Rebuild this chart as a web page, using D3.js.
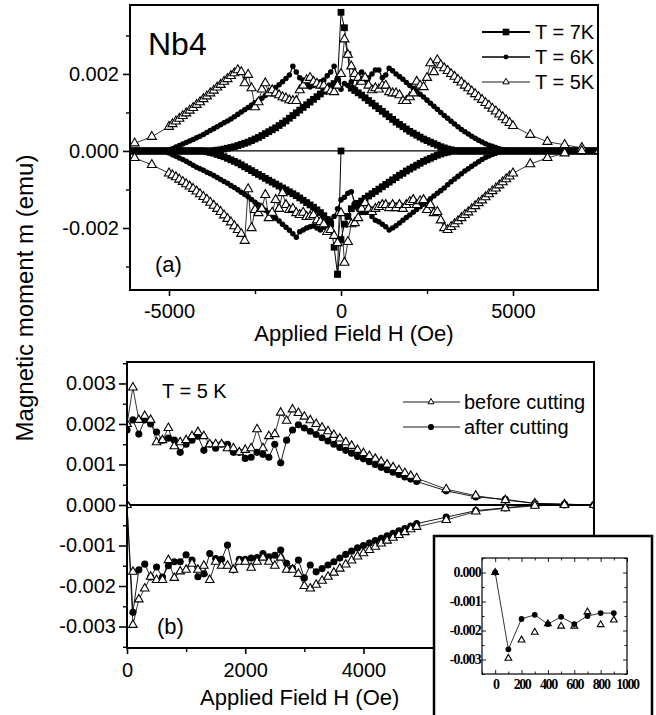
<!DOCTYPE html>
<html><head><meta charset="utf-8">
<script src="https://cdn.jsdelivr.net/npm/d3@7"></script>
<style>body{margin:0;background:#fff}svg{display:block}</style>
</head><body>
<script>
// ---------------- DATA ----------------
// Panel (a): field grid (Oe) for T = 7K and T = 6K loops
const fieldGrid = [-6100,-6000,-5900,-5800,-5700,-5600,-5500,-5400,-5300,-5200,-5100,-5000,-4900,-4800,-4700,-4600,-4500,-4400,-4300,-4200,-4100,-4000,-3900,-3800,-3700,-3600,-3500,-3400,-3300,-3200,-3100,-3000,-2900,-2800,-2700,-2600,-2500,-2400,-2300,-2200,-2100,-2000,-1900,-1800,-1700,-1600,-1500,-1400,-1300,-1200,-1100,-1000,-900,-800,-700,-600,-500,-400,-300,-200,-100,0,100,200,300,400,500,600,700,800,900,1000,1100,1200,1300,1400,1500,1600,1700,1800,1900,2000,2100,2200,2300,2400,2500,2600,2700,2800,2900,3000,3100,3200,3300,3400,3500,3600,3700,3800,3900,4000,4100,4200,4300,4400,4500,4600,4700,4800,4900,5000,5100,5200,5300,5400,5500,5600,5700,5800,5900,6000,6100,6200,6300,6400,6500,6600,6700,6800,6900,7000,7100,7200,7300,7400,7500];
const m7Up = [0,0,0,0,0,0,0,0,0,0,0,0,0,0,0,0,0,0,0,0,0,0,0,0,
 0.00001,0.00002,0.00003,0.00005,0.00007,0.00009,0.00011,0.00014,0.00017,0.0002,0.00023,0.00027,0.00031,0.00035,0.0004,0.00045,0.0005,0.00055,0.0006,0.00066,0.00072,0.00078,0.00085,0.00092,0.00099,0.00106,0.00113,0.0012,0.00127,0.00134,0.00141,0.00148,0.00155,0.00162,0.00169,0.00175,0.0018,
 0.0036,0.0032,0.0025,0.00163,0.00157,0.00151,0.00145,0.00138,0.00131,0.00124,0.00117,0.0011,0.00103,0.00096,0.00089,0.00082,0.00075,0.00069,0.00063,0.00057,0.00051,0.00046,0.00041,0.00036,0.00031,0.00027,0.00023,0.00019,0.00015,0.00011,0.00008,0.00005,0.00003,0.00001,
 0,0,0,0,0,0,0,0,0,0,0,0,0,0,0,0,0,0,0,0,0,0,0,0,0,0,0,0,0,0,0,0,0,0,0,0,0,0,0,0,0,0];
const m7Down = [0,0,0,0,0,0,0,0,0,0,0,0,0,0,0,0,0,0,0,0,0,0,
 -0.00002,-0.00004,-0.00006,-0.00009,-0.00012,-0.00015,-0.00019,-0.00023,-0.00027,-0.00031,-0.00036,-0.00041,-0.00046,-0.00051,-0.00056,-0.00061,-0.00066,-0.00071,-0.00076,-0.00081,-0.00086,-0.00091,-0.00096,-0.00101,-0.00106,-0.00111,-0.00116,-0.00122,-0.00128,-0.00134,-0.0014,-0.00146,-0.00153,-0.0016,-0.00168,-0.00178,-0.0019,-0.0025,-0.0032,
 -0.0023,-0.0019,-0.0017,-0.0015,-0.00143,-0.00136,-0.0013,-0.00123,-0.00117,-0.00111,-0.00105,-0.00099,-0.00093,-0.00087,-0.00081,-0.00075,-0.00069,-0.00063,-0.00058,-0.00052,-0.00047,-0.00042,-0.00037,-0.00032,-0.00027,-0.00023,-0.00019,-0.00015,-0.00011,-0.00008,-0.00005,-0.00003,-0.00001,
 0,0,0,0,0,0,0,0,0,0,0,0,0,0,0,0,0,0,0,0,0,0,0,0,0,0,0,0,0,0,0,0,0,0,0,0,0,0,0,0,0,0,0];
const m6Up = [0,0,0,0,0,0,0,0,0,0,0,
 0.00003,0.00006,0.0001,0.00014,0.00018,0.00022,0.00026,0.0003,0.00034,0.00038,0.00043,0.00048,0.00053,0.00058,0.00063,0.00068,0.00073,0.00078,0.00083,0.00089,0.00095,0.00101,0.00107,0.00113,0.00119,0.00125,0.00131,0.00137,0.00144,0.00151,0.00158,0.00165,0.00172,0.0018,0.00188,0.00197,0.0022,0.00205,0.0019,0.00184,0.00172,0.00166,0.0017,0.00176,0.0018,0.00184,0.00195,0.00205,0.0022,0.0019,
 0.0016,0.00175,0.0017,0.0018,0.0016,0.0019,0.00205,0.00184,0.0019,0.002,0.0021,0.0021,0.0019,0.00197,0.00215,0.00208,0.002,0.00193,0.00186,0.00178,0.0017,0.00163,0.00155,0.00147,0.0014,0.00132,0.00124,0.00116,0.00108,0.001,0.00092,0.00085,0.00077,0.0007,0.00063,0.00056,0.0005,0.00044,0.00038,0.00033,0.00028,0.00023,0.00019,0.00015,0.00012,0.00009,0.00006,0.00004,0.00002,0.00001,
 0,0,0,0,0,0,0,0,0,0,0,0,0,0,0,0,0,0,0,0,0,0,0,0,0,0];
const m6Down = [0,0,0,0,0,0,0,0,0,0,0,
 -0.00005,-0.0001,-0.00014,-0.00018,-0.00022,-0.00027,-0.00032,-0.00037,-0.00042,-0.00046,-0.0005,-0.00055,-0.00059,-0.00064,-0.00069,-0.00074,-0.00079,-0.00084,-0.0009,-0.00095,-0.00101,-0.00107,-0.00113,-0.00119,-0.00126,-0.00133,-0.0014,-0.00147,-0.00154,-0.00161,-0.00168,-0.00175,-0.00182,-0.0019,-0.00198,-0.00206,-0.00215,-0.00224,-0.0021,-0.00205,-0.002,-0.00197,-0.00195,-0.002,-0.00205,-0.00198,-0.0019,-0.0018,-0.0017,-0.0015,
 -0.00127,-0.0012,-0.0011,-0.00106,-0.00135,-0.0015,-0.0016,-0.0016,-0.00158,-0.0017,-0.0018,-0.00184,-0.0019,-0.00197,-0.00205,-0.002,-0.00194,-0.00187,-0.0018,-0.00173,-0.00166,-0.00159,-0.00152,-0.00145,-0.00138,-0.00131,-0.00124,-0.00117,-0.0011,-0.00103,-0.00096,-0.00088,-0.0008,-0.00073,-0.00066,-0.00059,-0.00052,-0.00046,-0.0004,-0.00034,-0.00028,-0.00022,-0.00017,-0.00013,-0.00009,-0.00006,-0.00003,-0.00001,
 0,0,0,0,0,0,0,0,0,0,0,0,0,0,0,0,0,0,0,0,0,0,0,0,0,0,0,0];
// T = 7K first measured point (virgin) and its jump
const virgin7H = [0,-100];
const virgin7M = [0,-0.0032];
// T = 5K loop (triangles)
const field5K = [-6000,-5500,-5000,-4900,-4800,-4700,-4600,-4500,-4400,-4300,-4200,-4100,-4000,-3900,-3800,-3700,-3600,-3500,-3400,-3300,-3200,-3100,-3000,-2900,-2800,-2700,-2600,-2500,-2400,-2300,-2200,-2100,-2000,-1900,-1800,-1700,-1600,-1500,-1400,-1300,-1200,-1100,-1000,-900,-800,-700,-600,-500,-400,-300,-200,-100,0,100,200,300,400,500,600,700,800,900,1000,1100,1200,1300,1400,1500,1600,1700,1800,1900,2000,2100,2200,2300,2400,2500,2600,2700,2800,2900,3000,3100,3200,3300,3400,3500,3600,3700,3800,3900,4000,4100,4200,4300,4400,4500,4600,4700,4800,4900,5000,5500,6000,6500,7000,7500];
const m5Up = [0.0002,0.00037,
 0.00063,0.0007,0.00077,0.00084,0.00091,0.00098,0.00105,0.00112,0.0012,0.00127,0.00135,0.00142,0.0015,0.00157,0.00165,0.00172,0.0018,0.00187,0.00195,0.00202,0.0021,
 0.00205,0.00176,0.00198,0.00163,0.00114,0.00127,0.0016,0.00176,0.0015,0.00158,0.0015,0.00145,0.0014,0.00137,0.00132,0.0013,0.0013,0.00158,0.0017,0.00184,0.0019,0.0018,0.00175,0.0017,0.0017,0.0016,0.00155,0.00153,0.0017,
 0.002,0.0029,0.0025,0.0022,0.002,0.0019,0.0018,0.0019,0.0017,0.00158,0.00163,0.0016,0.0017,0.0017,0.00153,0.0015,0.0015,0.00145,0.0013,0.0013,0.0014,0.0015,0.0018,0.0017,0.00166,0.0019,0.00228,0.00205,
 0.00236,0.00223,0.00215,0.00208,0.002,0.00193,0.00185,0.00178,0.0017,0.00163,0.00155,0.00148,0.0014,0.00133,0.00125,0.00118,0.0011,0.00103,0.00095,0.00088,0.0008,0.00073,0.00065,
 0.00042,0.00024,0.00016,0.00008,0.00003];
const m5Down = [-0.00018,-0.00036,
 -0.00058,-0.00063,-0.00068,-0.00074,-0.0008,-0.00086,-0.00092,-0.00098,-0.00105,-0.00112,-0.00119,-0.00126,-0.00134,-0.00142,-0.0015,-0.00158,-0.00167,-0.00176,-0.00185,-0.00195,-0.00205,-0.00215,-0.00233,
 -0.00099,-0.002,-0.00153,-0.00161,-0.0015,-0.00114,-0.00174,-0.0016,-0.00127,-0.0015,-0.00109,-0.0014,-0.00153,-0.0015,-0.00161,-0.00166,-0.0016,-0.00171,-0.0017,-0.00166,-0.0018,-0.00184,-0.0019,-0.0021,-0.00205,-0.0022,-0.00239,
 -0.00161,-0.0029,-0.00236,-0.0019,-0.00187,-0.00174,-0.0015,-0.00135,-0.0015,-0.00158,-0.0015,-0.00145,-0.0014,-0.0014,-0.00148,-0.0014,-0.00148,-0.0014,-0.0015,-0.0014,-0.00132,-0.00127,-0.0014,-0.0013,-0.00127,-0.00153,-0.0014,-0.00161,-0.00158,-0.0018,-0.002,
 -0.00205,-0.00197,-0.0019,-0.00182,-0.00174,-0.00166,-0.00159,-0.00151,-0.00143,-0.00135,-0.00128,-0.0012,-0.00112,-0.00104,-0.00097,-0.00089,-0.00081,-0.00073,-0.00066,-0.00058,
 -0.00034,-0.00018,-0.00006,0,0];

// Panel (b): T = 5 K, before / after cutting
const fieldB = [0,100,200,300,400,500,600,700,800,900,1000,1100,1200,1300,1400,1500,1600,1700,1800,1900,2000,2100,2200,2300,2400,2500,2600,2700,2800,2900,3000,3100,3200,3300,3400,3500,3600,3700,3800,3900,4000,4100,4200,4300,4400,4500,4600,4700,4800,4900,5400,5900,6400,6900,7400,7900];
const beforeUp = [0.002,0.0029,0.0021,0.0022,0.0021,0.00155,0.0016,0.0019,0.00145,0.00155,0.0016,0.0017,0.0018,0.0017,0.0015,0.0015,0.0015,0.0014,0.0014,0.0013,0.00136,0.0014,0.00187,0.0014,0.0017,0.00175,0.00228,0.00208,0.00236,0.00227,0.00218,0.00209,0.002,0.00191,0.00182,0.00173,0.00164,0.00155,0.00146,0.00136,0.00128,0.00121,0.00114,0.00107,0.001,0.00093,0.00086,0.00079,0.00072,0.00066,0.00039,0.00023,0.00012,0.00004,0.00002,0];
const afterUp = [0.00185,0.0021,0.00175,0.0021,0.002,0.0018,0.0016,0.00165,0.0016,0.0013,0.0015,0.0016,0.0017,0.00135,0.0015,0.0014,0.0015,0.0015,0.0013,0.0013,0.00115,0.00118,0.0013,0.00125,0.00118,0.0015,0.00104,0.0016,0.00185,0.00198,0.0019,0.00182,0.00174,0.00166,0.00158,0.0015,0.00142,0.00135,0.00128,0.0012,0.00114,0.00107,0.001,0.00093,0.00087,0.00081,0.00075,0.00069,0.00064,0.00058,0.00035,0.0002,0.00014,0.00004,0.00002,0];
const beforeDown = [0,-0.00296,-0.00233,-0.00206,-0.00177,-0.00185,-0.00185,-0.00136,-0.0018,-0.00164,-0.0016,-0.00145,-0.0016,-0.0015,-0.00185,-0.0014,-0.0015,-0.0015,-0.0016,-0.0014,-0.0014,-0.00155,-0.0014,-0.0013,-0.0014,-0.0015,-0.0013,-0.0016,-0.0016,-0.0017,-0.002,-0.00206,-0.00197,-0.00187,-0.00177,-0.00167,-0.00157,-0.00147,-0.00137,-0.00127,-0.00119,-0.00111,-0.00103,-0.00095,-0.00088,-0.00081,-0.00074,-0.00067,-0.0006,-0.00054,-0.00037,-0.00016,-0.00008,-0.00002,0,0];
const afterDown = [0,-0.00265,-0.0016,-0.00146,-0.00178,-0.00153,-0.00178,-0.0015,-0.0014,-0.0014,-0.00123,-0.00136,-0.00177,-0.0017,-0.0012,-0.00132,-0.00134,-0.00099,-0.0016,-0.00134,-0.00134,-0.00131,-0.0013,-0.0012,-0.00128,-0.00124,-0.00111,-0.00144,-0.00156,-0.00136,-0.0018,-0.00148,-0.00165,-0.00157,-0.00148,-0.0014,-0.00131,-0.00122,-0.00114,-0.00106,-0.001,-0.00094,-0.00088,-0.00082,-0.00076,-0.0007,-0.00064,-0.00058,-0.00052,-0.00046,-0.0003,-0.00014,-0.00007,0,0,0];
// a lone "before cutting" point near the origin
const beforeExtraH = [100];
const beforeExtraM = [-0.00165];
// Inset: low-field part of the descending branch
const insetH = [0,100,200,300,400,500,600,700,800,900];
const insetAfter = [0,-0.00265,-0.0016,-0.00146,-0.00178,-0.00153,-0.00178,-0.0015,-0.0014,-0.0014];
const insetBefore = [0,-0.00296,-0.00233,-0.00206,-0.00177,-0.00185,-0.00185,-0.00136,-0.0018,-0.00164];

// ticks / labels
const ticksAX = [-5000,0,5000], minorAX = [-2500,2500];
const ticksAY = [-0.002,0,0.002], minorAY = [-0.003,-0.001,0.001,0.003];
const ticksBX = [0,2000,4000], minorBX = [1000,3000];
const ticksBY = [-0.003,-0.002,-0.001,0,0.001,0.002,0.003], minorBY = [-0.0035,-0.0025,-0.0015,-0.0005,0.0005,0.0015,0.0025,0.0035];
const ticksIX = [0,200,400,600,800,1000], minorIX = [-100,100,300,500,700,900];
const ticksIY = [-0.003,-0.002,-0.001,0], minorIY = [-0.0035,-0.0025,-0.0015,-0.0005,0.0005];
const legendA = ["T = 7K","T = 6K","T = 5K"];
const legendB = ["before cutting","after cutting"];

// ---------------- DRAW ----------------
const SANS = "'Liberation Sans', Arial, Helvetica, sans-serif";
const SERIF = "'Liberation Serif', 'Times New Roman', serif";
const svg = d3.select("body").append("svg").attr("width",656).attr("height",715)
  .style("font-family",SANS);
const fmt = d3.format(".3f");
const yfmt = v => (Math.abs(v)<1e-12 ? "0.000" : (v<0? "-" + fmt(-v) : fmt(v)));
const xfmt = v => (v<0 ? "-" + String(-v) : String(v));

function zipPts(hs, ms){ return hs.map((h,i)=>[h, ms[i]]); }

function series(g, x, y, pts, o){
  if (o.line){
    g.append("path").datum(pts)
      .attr("d", d3.line().x(d=>x(d[0])).y(d=>y(d[1])))
      .attr("fill","none").attr("stroke","#000").attr("stroke-width",o.lw||0.8);
  }
  if (o.sym){
    g.selectAll(null).data(pts).enter().append("path")
      .attr("transform", d=>`translate(${x(d[0])},${y(d[1])})`)
      .attr("d", d3.symbol().type(o.sym).size(o.size))
      .attr("fill", o.fill).attr("stroke","#000").attr("stroke-width", o.sw||0);
  }
}

function axes(g, x, y, r, opt){
  const ya = g.append("g").attr("transform",`translate(${r.l},0)`)
    .call(d3.axisLeft(y).tickValues(opt.yt).tickSize(opt.ytl).tickPadding(opt.ypad).tickFormat(yfmt));
  ya.select(".domain").remove();
  ya.selectAll("line").attr("stroke-width",1.6);
  ya.selectAll("text").style("font-size",opt.fs+"px").style("font-family",SANS).attr("fill","#000");
  const ym = g.append("g").attr("transform",`translate(${r.l},0)`)
    .call(d3.axisLeft(y).tickValues(opt.ym).tickSize(opt.ytm).tickFormat(""));
  ym.select(".domain").remove(); ym.selectAll("line").attr("stroke-width",1.4);
  const xa = g.append("g").attr("transform",`translate(0,${r.b})`)
    .call(d3.axisBottom(x).tickValues(opt.xt).tickSize(opt.xtl).tickPadding(opt.xpad).tickFormat(xfmt));
  xa.select(".domain").remove();
  xa.selectAll("line").attr("stroke-width",1.6);
  xa.selectAll("text").style("font-size",opt.fs+"px").style("font-family",SANS).attr("fill","#000");
  const xm = g.append("g").attr("transform",`translate(0,${r.b})`)
    .call(d3.axisBottom(x).tickValues(opt.xm).tickSize(opt.xtm).tickFormat(""));
  xm.select(".domain").remove(); xm.selectAll("line").attr("stroke-width",1.4);
}

// ===== Panel (a) =====
const A = {l:130, r:598, t:5, b:290};
const xA = d3.scaleLinear().domain([-6134, 7471]).range([A.l, A.r]);
const yA = d3.scaleLinear().domain([-0.00361, 0.00379]).range([A.b, A.t]);
const gA = svg.append("g");
gA.append("clipPath").attr("id","clipA").append("rect")
  .attr("x",A.l).attr("y",A.t).attr("width",A.r-A.l).attr("height",A.b-A.t);
const dA = gA.append("g").attr("clip-path","url(#clipA)");
dA.append("line").attr("x1",A.l).attr("x2",A.r).attr("y1",yA(0)).attr("y2",yA(0))
  .attr("stroke","#000").attr("stroke-width",1.3);
const sq = {line:true, lw:1, sym:d3.symbolSquare, size:46, fill:"#000"};
const dot = {line:true, lw:1.2, sym:d3.symbolCircle, size:24, fill:"#000"};
const tri = {line:true, lw:0.8, sym:d3.symbolTriangle, size:36, fill:"#fff", sw:1.1};
series(dA, xA, yA, zipPts(fieldGrid, m7Up), sq);
series(dA, xA, yA, zipPts(fieldGrid, m7Down), sq);
series(dA, xA, yA, zipPts(virgin7H, virgin7M), sq);
series(dA, xA, yA, zipPts(fieldGrid, m6Up), dot);
series(dA, xA, yA, zipPts(fieldGrid, m6Down), dot);
series(dA, xA, yA, zipPts(field5K, m5Up), tri);
series(dA, xA, yA, zipPts(field5K, m5Down), tri);
gA.append("rect").attr("x",A.l).attr("y",A.t).attr("width",A.r-A.l).attr("height",A.b-A.t)
  .attr("fill","none").attr("stroke","#000").attr("stroke-width",2);
axes(gA, xA, yA, A, {yt:ticksAY, ym:minorAY, xt:ticksAX, xm:minorAX, ytl:7, ytm:4, xtl:6, xtm:4, ypad:4, xpad:8, fs:20});
gA.append("text").attr("x",354).attr("y",341).attr("text-anchor","middle")
  .style("font-size","22px").text("Applied Field H (Oe)");
gA.append("text").attr("x",148).attr("y",55).style("font-size","32px").text("Nb4");
gA.append("text").attr("x",155).attr("y",272).style("font-size","22px").text("(a)");
// legend (a)
const legA = [
  {lw:2, sym:d3.symbolSquare, size:44, fill:"#000", sw:0},
  {lw:1.3, sym:d3.symbolCircle, size:18, fill:"#000", sw:0},
  {lw:0.9, sym:d3.symbolTriangle, size:18, fill:"#fff", sw:1}];
legendA.forEach((t,i)=>{
  const yy = 32 + i*25, s = legA[i];
  gA.append("line").attr("x1",482).attr("x2",530).attr("y1",yy).attr("y2",yy)
    .attr("stroke","#000").attr("stroke-width",s.lw);
  gA.append("path").attr("transform",`translate(506,${yy})`)
    .attr("d", d3.symbol().type(s.sym).size(s.size))
    .attr("fill", s.fill).attr("stroke","#000").attr("stroke-width", s.sw);
  gA.append("text").attr("x",535).attr("y",yy).attr("dy","0.36em").style("font-size","20px").text(t);
});

// ===== Panel (b) =====
const B = {l:127, r:594, t:362, b:648};
const xB = d3.scaleLinear().domain([0, 7900]).range([B.l, B.r]);
const yB = d3.scaleLinear().domain([-0.00353, 0.00353]).range([B.b, B.t]);
const gB = svg.append("g");
gB.append("clipPath").attr("id","clipB").append("rect")
  .attr("x",B.l).attr("y",B.t).attr("width",B.r-B.l).attr("height",B.b-B.t);
const dB = gB.append("g").attr("clip-path","url(#clipB)");
dB.append("line").attr("x1",B.l).attr("x2",B.r).attr("y1",yB(0)).attr("y2",yB(0))
  .attr("stroke","#000").attr("stroke-width",1.8);
const circB = {line:true, lw:0.9, sym:d3.symbolCircle, size:40, fill:"#000"};
const triB = {line:true, lw:0.8, sym:d3.symbolTriangle, size:32, fill:"#fff", sw:1.1};
series(dB, xB, yB, zipPts(fieldB, afterUp), circB);
series(dB, xB, yB, zipPts(fieldB, afterDown), circB);
series(dB, xB, yB, zipPts(fieldB, beforeUp), triB);
series(dB, xB, yB, zipPts(fieldB, beforeDown), triB);
series(dB, xB, yB, zipPts(beforeExtraH, beforeExtraM), {line:false, sym:d3.symbolTriangle, size:32, fill:"#fff", sw:1.1});
gB.append("rect").attr("x",B.l).attr("y",B.t).attr("width",B.r-B.l).attr("height",B.b-B.t)
  .attr("fill","none").attr("stroke","#000").attr("stroke-width",2);
axes(gB, xB, yB, B, {yt:ticksBY, ym:minorBY, xt:ticksBX, xm:minorBX, ytl:8, ytm:4, xtl:6, xtm:4, ypad:3, xpad:9, fs:20});
gB.append("text").attr("x",200).attr("y",705).style("font-size","22px").text("Applied Field H (Oe)");
gB.append("text").attr("x",162).attr("y",398).style("font-size","20px").text("T = 5 K");
gB.append("text").attr("x",157).attr("y",634).style("font-size","22px").text("(b)");
// legend (b)
const legBS = [{sym:d3.symbolTriangle,size:16,fill:"#fff",sw:1},{sym:d3.symbolCircle,size:30,fill:"#000",sw:0}];
legendB.forEach((t,i)=>{
  const yy = 402 + i*25;
  gB.append("line").attr("x1",403).attr("x2",460).attr("y1",yy).attr("y2",yy)
    .attr("stroke","#000").attr("stroke-width",0.9);
  gB.append("path").attr("transform",`translate(431,${yy})`)
    .attr("d", d3.symbol().type(legBS[i].sym).size(legBS[i].size))
    .attr("fill",legBS[i].fill).attr("stroke","#000").attr("stroke-width",legBS[i].sw);
  gB.append("text").attr("x",464).attr("y",yy).attr("dy","0.36em").style("font-size","20px").text(t);
});

// Y title shared
svg.append("text").attr("transform","translate(33,298) rotate(-90)").attr("text-anchor","middle")
  .style("font-size","24px").text("Magnetic moment m (emu)");

// ===== Inset =====
svg.append("rect").attr("x",434).attr("y",536).attr("width",218).attr("height",200)
  .attr("fill","#fff").attr("stroke","#000").attr("stroke-width",2.5);
const I = {l:482, r:627, t:558, b:674};
const xI = d3.scaleLinear().domain([-100, 1000]).range([I.l, I.r]);
const yI = d3.scaleLinear().domain([-0.0035, 0.0005]).range([I.b, I.t]);
const gI = svg.append("g").style("font-family",SERIF);
series(gI, xI, yI, zipPts(insetH, insetBefore), {line:false, sym:d3.symbolTriangle, size:20, fill:"#fff", sw:1.1});
series(gI, xI, yI, zipPts(insetH, insetAfter), {line:true, lw:0.8, sym:d3.symbolCircle, size:26, fill:"#000"});
gI.append("rect").attr("x",I.l).attr("y",I.t).attr("width",I.r-I.l).attr("height",I.b-I.t)
  .attr("fill","none").attr("stroke","#000").attr("stroke-width",1.2);
function inAxis(gen, tv, size, pad, fmtf, tr, ls){
  const a = gI.append("g").attr("transform",tr).call(gen.tickValues(tv).tickSize(size).tickPadding(pad).tickFormat(fmtf));
  a.select(".domain").remove();
  a.selectAll("line").attr("stroke-width",0.9);
  a.selectAll("text").style("font-size","14px").style("font-family",SERIF).attr("fill","#000")
    .style("letter-spacing",ls+"px").style("font-weight","bold");
}
inAxis(d3.axisLeft(yI), ticksIY, -4, 1, yfmt, `translate(${I.l},0)`, -0.8);
inAxis(d3.axisLeft(yI), minorIY, -2.5, 1, "", `translate(${I.l},0)`, 0);
inAxis(d3.axisRight(yI), ticksIY, -4, 1, "", `translate(${I.r},0)`, 0);
inAxis(d3.axisRight(yI), minorIY, -2.5, 1, "", `translate(${I.r},0)`, 0);
inAxis(d3.axisBottom(xI), ticksIX, -4, 5, xfmt, `translate(0,${I.b})`, -1.4);
inAxis(d3.axisBottom(xI), minorIX, -2.5, 5, "", `translate(0,${I.b})`, 0);
inAxis(d3.axisTop(xI), ticksIX, -4, 1, "", `translate(0,${I.t})`, 0);
inAxis(d3.axisTop(xI), minorIX, -2.5, 1, "", `translate(0,${I.t})`, 0);
</script>
</body></html>
